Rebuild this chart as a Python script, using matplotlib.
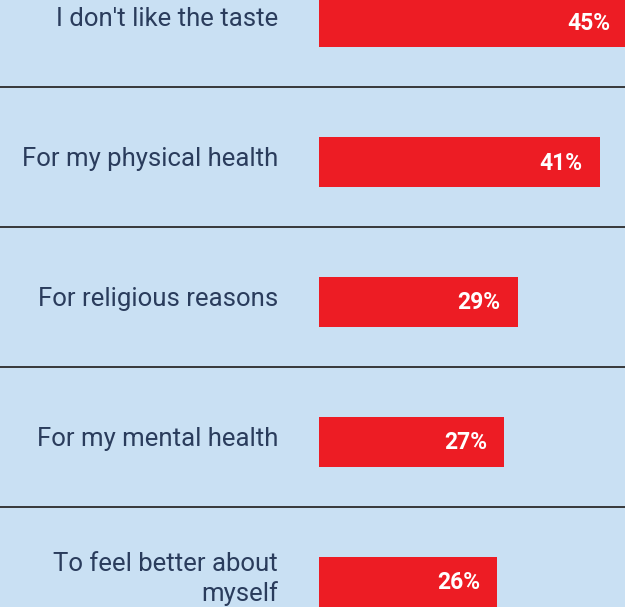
import matplotlib
matplotlib.use('Agg')
import matplotlib.pyplot as plt

# Reasons for not eating meat, share of respondents
reasons = ["I don't like the taste", "For my physical health", "For religious reasons",
           "For my mental health", "To feel better about\nmyself"]
shares = [45, 41, 29, 27, 26]

bg = "#C9E0F3"
red = "#ED1C24"
navy = "#2A3C5C"

fig = plt.figure(figsize=(6.25, 6.07), dpi=100, facecolor=bg)
ax = fig.add_axes([0, 0, 1, 1], facecolor=bg)

px = 6.85         # pixels per percentage point
row = 140.0       # row pitch in pixels
ax.set_xlim(-319 / px, 306 / px)
ax.set_ylim((607 - 22) / row, -22 / row)

ypos = list(range(len(reasons)))
ax.barh(ypos, shares, height=50 / row, color=red, zorder=2)

for y, lab, v in zip(ypos, reasons, shares):
    ax.text(-41 / px, y - 3 / row, lab, ha='right', va='center', fontsize=18.5,
            color=navy, family='Roboto', linespacing=1.22)
    ax.text(v - 17 / px, y + 1 / row, f"{v}%", ha='right', va='center', fontsize=16.5,
            color='white', fontweight='bold', family='Roboto', zorder=3)

# separator lines between rows
for y in ypos[:-1]:
    ax.axhline(y + 65 / row, color="#2b2b2b", lw=1.3, zorder=1)

ax.axis('off')
fig.savefig("out.png", dpi=100, facecolor=bg)
